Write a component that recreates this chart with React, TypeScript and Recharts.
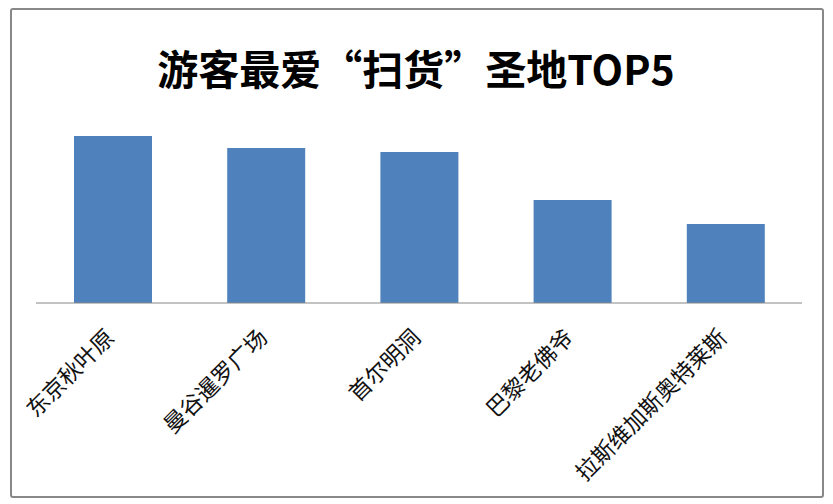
import { BarChart, Bar, XAxis, YAxis } from "recharts";

const TITLE = "游客最爱“扫货”圣地TOP5";
const CATEGORIES = ["东京秋叶原", "曼谷暹罗广场", "首尔明洞", "巴黎老佛爷", "拉斯维加斯奥特莱斯"];
const VALUES = [167, 155, 151, 103, 79];

const data = CATEGORIES.map((name, i) => ({ name, value: VALUES[i] }));

const W = 833;
const H = 504;

function AngledTick(props: any) {
  const { x, y, payload } = props;
  const tx = x + 3;
  const ty = y + 36;
  return (
    <text
      x={tx}
      y={ty}
      transform={`rotate(-45, ${tx}, ${ty})`}
      textAnchor="end"
      fontSize={22.5}
      fill="#111"
      fontFamily="'Noto Sans CJK SC', sans-serif"
    >
      {payload.value}
    </text>
  );
}

export default function App() {
  return (
    <div style={{ position: "absolute", left: 0, top: 0, width: W, height: H, background: "#fff" }}>
      <BarChart
        width={W}
        height={H}
        data={data}
        margin={{ top: 103, right: 31, bottom: 171, left: 36 }}
      >
        <YAxis hide domain={[0, 200]} />
        <XAxis
          dataKey="name"
          interval={0}
          tickLine={false}
          tickSize={0}
          tickMargin={0}
          axisLine={{ stroke: "#868686", strokeWidth: 1 }}
          tick={<AngledTick />}
        />
        <Bar dataKey="value" fill="#4F81BD" barSize={78} isAnimationActive={false} />
      </BarChart>
      <svg
        width={W}
        height={H}
        style={{ position: "absolute", left: 0, top: 0, pointerEvents: "none" }}
      >
        <rect x={11} y={9} width={812} height={488} fill="none" stroke="#888" strokeWidth={2} rx={2} />
        <text
          x={416}
          y={85}
          textAnchor="middle"
          fontSize={41}
          fontWeight="bold"
          fill="#000"
          fontFamily="'Noto Sans CJK SC', sans-serif"
        >
          {TITLE}
        </text>
      </svg>
    </div>
  );
}
